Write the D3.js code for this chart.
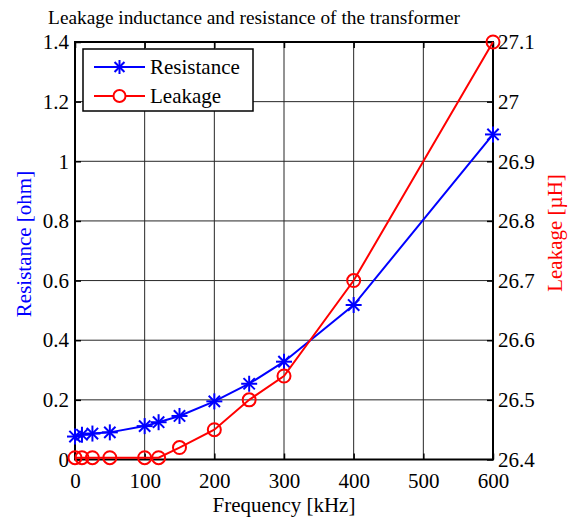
<!DOCTYPE html>
<html>
<head>
<meta charset="utf-8">
<script src="https://cdn.jsdelivr.net/npm/d3@7"></script>
<style>
  body { margin: 0; background: #fff; }
  text { font-family: "Liberation Serif", "Times New Roman", serif; }
</style>
</head>
<body>
<svg id="chart" width="575" height="519"></svg>
<script>
// Measured frequencies and results
const frequency = [0, 10, 25, 50, 100, 120, 150, 200, 250, 300, 400, 600];
const resistance = [0.077, 0.083, 0.087, 0.091, 0.112, 0.125, 0.146, 0.195, 0.254, 0.328, 0.518, 1.09];
const leakage = [26.403, 26.403, 26.403, 26.403, 26.403, 26.403, 26.42, 26.45, 26.50, 26.54, 26.70, 27.10];

const xTicks = [0, 100, 200, 300, 400, 500, 600];
const yLeftTicks = [0, 0.2, 0.4, 0.6, 0.8, 1, 1.2, 1.4];
const yRightTicks = [26.4, 26.5, 26.6, 26.7, 26.8, 26.9, 27, 27.1];

const svg = d3.select("#chart");
const m = { left: 75, right: 493, top: 42, bottom: 459.5 };

const x = d3.scaleLinear().domain([0, 600]).range([m.left, m.right]);
const yL = d3.scaleLinear().domain([0, 1.4]).range([m.bottom, m.top]);
const yR = d3.scaleLinear().domain([26.4, 27.1]).range([m.bottom, m.top]);

// Grid
const grid = svg.append("g").attr("stroke", "#262626").attr("stroke-width", 1);
xTicks.forEach(t => grid.append("line")
  .attr("x1", x(t)).attr("x2", x(t)).attr("y1", m.top).attr("y2", m.bottom));
yLeftTicks.forEach(t => grid.append("line")
  .attr("x1", m.left).attr("x2", m.right).attr("y1", yL(t)).attr("y2", yL(t)));

// Axes with inward ticks
const fontSize = 21;
const serif = "'Liberation Serif', 'Times New Roman', serif";
function styleAxis(g) {
  g.attr("font-family", serif);
  g.select(".domain").remove();
  g.selectAll("line").attr("stroke", "#000").attr("stroke-width", 1.5);
  g.selectAll("text").attr("font-size", fontSize).attr("fill", "#000")
    .style("font-family", serif);
}
svg.append("g").attr("transform", `translate(0,${m.bottom})`)
  .call(d3.axisBottom(x).tickValues(xTicks).tickSize(-6).tickPadding(14).tickFormat(d3.format("d")))
  .call(styleAxis);
svg.append("g").attr("transform", `translate(0,${m.top})`)
  .call(d3.axisTop(x).tickValues(xTicks).tickSize(-6).tickFormat(""))
  .call(styleAxis);
svg.append("g").attr("transform", `translate(${m.left},0)`)
  .call(d3.axisLeft(yL).tickValues(yLeftTicks).tickSize(-6).tickPadding(6).tickFormat(d => d === 0 ? "0" : d3.format("~g")(d)))
  .call(styleAxis);
svg.append("g").attr("transform", `translate(${m.right},0)`)
  .call(d3.axisRight(yR).tickValues(yRightTicks).tickSize(-6).tickPadding(5).tickFormat(d3.format("~g")))
  .call(styleAxis);

// Frame
svg.append("rect").attr("x", m.left).attr("y", m.top)
  .attr("width", m.right - m.left).attr("height", m.bottom - m.top)
  .attr("fill", "none").attr("stroke", "#000").attr("stroke-width", 2);

// Series
const resData = frequency.map((f, i) => [f, resistance[i]]);
const leakData = frequency.map((f, i) => [f, leakage[i]]);

function asterisk(g, cx, cy, r, color) {
  const a = g.append("g").attr("stroke", color).attr("stroke-width", 2);
  [0, 45, 90, 135].forEach(ang => {
    const rad = ang * Math.PI / 180;
    const dx = r * Math.cos(rad), dy = r * Math.sin(rad);
    a.append("line").attr("x1", cx - dx).attr("y1", cy - dy).attr("x2", cx + dx).attr("y2", cy + dy);
  });
}

svg.append("path").datum(resData)
  .attr("d", d3.line().x(d => x(d[0])).y(d => yL(d[1])))
  .attr("fill", "none").attr("stroke", "#0000ff").attr("stroke-width", 2);
const resMarks = svg.append("g");
resData.forEach(d => asterisk(resMarks, x(d[0]), yL(d[1]), 8, "#0000ff"));

svg.append("path").datum(leakData)
  .attr("d", d3.line().x(d => x(d[0])).y(d => yR(d[1])))
  .attr("fill", "none").attr("stroke", "#ff0000").attr("stroke-width", 2);
svg.append("g").selectAll("circle").data(leakData).join("circle")
  .attr("cx", d => x(d[0])).attr("cy", d => yR(d[1])).attr("r", 6.5)
  .attr("fill", "none").attr("stroke", "#ff0000").attr("stroke-width", 2);

// Legend
const lg = svg.append("g");
lg.append("rect").attr("x", 83).attr("y", 49).attr("width", 170).attr("height", 62)
  .attr("fill", "#fff").attr("stroke", "#000").attr("stroke-width", 1.5);
lg.append("line").attr("x1", 94).attr("x2", 145).attr("y1", 67).attr("y2", 67)
  .attr("stroke", "#0000ff").attr("stroke-width", 2);
asterisk(lg, 119.5, 67, 7, "#0000ff");
lg.append("text").attr("x", 150).attr("y", 74).attr("font-size", fontSize).text("Resistance");
lg.append("line").attr("x1", 94).attr("x2", 145).attr("y1", 96).attr("y2", 96)
  .attr("stroke", "#ff0000").attr("stroke-width", 2);
lg.append("circle").attr("cx", 119.5).attr("cy", 96).attr("r", 6)
  .attr("fill", "#fff").attr("stroke", "#ff0000").attr("stroke-width", 2);
lg.append("text").attr("x", 150).attr("y", 103).attr("font-size", fontSize).text("Leakage");

// Titles: the main title spans x = 48..460
const title = svg.append("text").attr("x", 254).attr("y", 24)
  .attr("text-anchor", "middle").attr("font-size", 19)
  .text("Leakage inductance and resistance of the transformer");
const tw = title.node().getComputedTextLength();
if (tw > 0) title.attr("font-size", 19 * 412 / tw);

svg.append("text").attr("x", (m.left + m.right) / 2).attr("y", 512)
  .attr("text-anchor", "middle").attr("font-size", fontSize)
  .text("Frequency [kHz]");
svg.append("text").attr("transform", `translate(31,244) rotate(-90)`)
  .attr("text-anchor", "middle").attr("font-size", fontSize).attr("fill", "#0000ff")
  .text("Resistance [ohm]");
svg.append("text").attr("transform", `translate(562,233) rotate(-90)`)
  .attr("text-anchor", "middle").attr("font-size", fontSize).attr("fill", "#ff0000")
  .text("Leakage [\u00b5H]");
</script>
</body>
</html>
